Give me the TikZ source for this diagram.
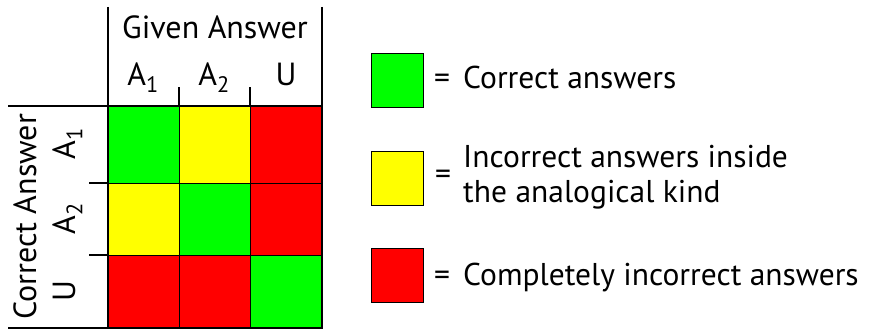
\documentclass[tikz,border=0pt]{standalone}
\usepackage{fontspec}
\setmainfont{PT Sans}
\definecolor{cgreen}{HTML}{00FF00}
\definecolor{cyellow}{HTML}{FFFF00}
\definecolor{cred}{HTML}{FF0000}
\begin{document}
\begin{tikzpicture}[x=1pt,y=-1pt,
  frame/.style={line width=1.6pt,black},
  cell/.style={draw=black,line width=1.2pt,inner sep=0pt,anchor=north west},
  row1/.style={minimum height=77pt},
  row2/.style={minimum height=72pt},
  row3/.style={minimum height=73pt},
  col1/.style={minimum width=71pt},
  col2/.style={minimum width=71pt},
  col3/.style={minimum width=72pt},
  lbox/.style={draw=black,line width=1.2pt,minimum width=52pt,minimum height=54pt,inner sep=0pt,anchor=north west},
  lbl/.style={font=\fontsize{32}{34}\selectfont,inner sep=0pt},
  ltext/.style={font=\fontsize{31.5}{34}\selectfont,inner sep=0pt,anchor=base west}]
\useasboundingbox (0,0) rectangle (874,329);
% cells
\node[cell,row1,col1,fill=cgreen]  (c11) at (108,106) {};
\node[cell,row1,col2,fill=cyellow] (c12) at (179,106) {};
\node[cell,row1,col3,fill=cred]    (c13) at (250,106) {};
\node[cell,row2,col1,fill=cyellow] (c21) at (108,183) {};
\node[cell,row2,col2,fill=cgreen]  (c22) at (179,183) {};
\node[cell,row2,col3,fill=cred]    (c23) at (250,183) {};
\node[cell,row3,col1,fill=cred]    (c31) at (108,255) {};
\node[cell,row3,col2,fill=cred]    (c32) at (179,255) {};
\node[cell,row3,col3,fill=cgreen]  (c33) at (250,255) {};
% frame lines
\draw[frame] (108,7) -- (108,328);
\draw[frame] (322,7) -- (322,328);
\draw[frame] (179,87) -- (179,106);
\draw[frame] (250,87) -- (250,106);
\draw[frame] (8,106) -- (322,106);
\draw[frame] (89,183) -- (108,183);
\draw[frame] (89,255) -- (108,255);
\draw[frame] (8,328) -- (322,328);
% header labels
\node[lbl,anchor=base] (given) at (215,38) {Given Answer};
\node[lbl,anchor=base] (ca1) at (143,85) {A\textsubscript{1}};
\node[lbl,anchor=base] (ca2) at (214,85) {A\textsubscript{2}};
\node[lbl,anchor=base] (cu) at (286,85) {U};
\node[lbl,anchor=base,rotate=90] (correct) at (36,217) {Correct Answer};
\node[lbl,anchor=base,rotate=90] (ra1) at (75,144) {A\textsubscript{1}};
\node[lbl,anchor=base,rotate=90] (ra2) at (75,219) {A\textsubscript{2}};
\node[lbl,anchor=base,rotate=90] (ru) at (75,291) {U};
% legend
\node[lbox,fill=cgreen]  (lg) at (371,53) {};
\node[lbox,fill=cyellow] (ly) at (371,151) {};
\node[lbox,fill=cred]    (lr) at (371,248) {};
\node[ltext] (eq1) at (434,88) {=};
\node[ltext] (t1) at (463,88) {Correct answers};
\node[ltext,anchor=center] (eq2) at (443,177) {=};
\node[ltext] (t2a) at (463,167) {Incorrect answers inside};
\node[ltext] (t2b) at (463,202) {the analogical kind};
\node[ltext] (eq3) at (434,285) {=};
\node[ltext] (t3) at (463,285) {Completely incorrect answers};
\end{tikzpicture}
\end{document}
